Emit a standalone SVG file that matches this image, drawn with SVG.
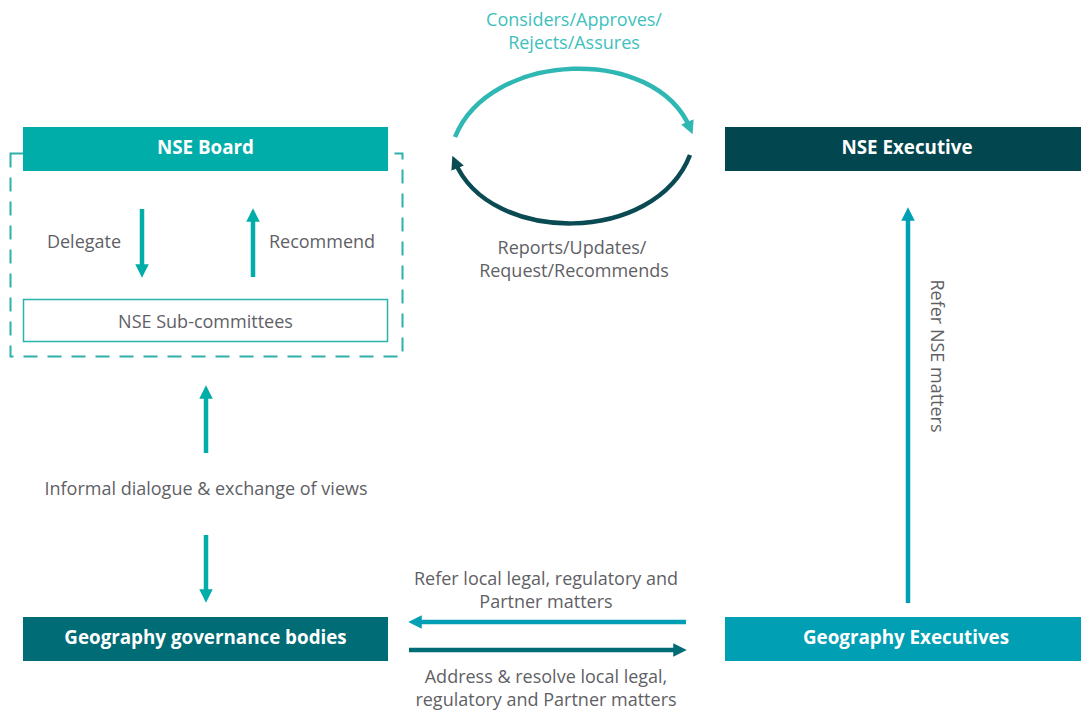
<svg xmlns="http://www.w3.org/2000/svg" width="1081" height="713" viewBox="0 0 1081 713">
  <style>
    .lbl { font-family: "Open Sans", "Liberation Sans", sans-serif; font-size: 18px; fill: #5f5f66; text-anchor: middle; }
    .head { font-family: "Open Sans", "Liberation Sans", sans-serif; font-size: 18.8px; font-weight: bold; fill: #ffffff; text-anchor: middle; }
    .teal { stroke: #00ada9; }
    .cyan { stroke: #009fb3; }
    .deep { stroke: #006c75; }
    .dark { stroke: #0a4a52; }
    .conn { fill: none; stroke-width: 4.5; }
  </style>
  <defs>
    <marker id="ahTeal" viewBox="0 0 10 10" refX="5" refY="5" markerWidth="3" markerHeight="3" orient="auto" markerUnits="strokeWidth">
      <path d="M0,0 L10,5 L0,10 z" fill="#00ada9"/>
    </marker>
    <marker id="ahCyan" viewBox="0 0 10 10" refX="5" refY="5" markerWidth="3" markerHeight="3" orient="auto" markerUnits="strokeWidth">
      <path d="M0,0 L10,5 L0,10 z" fill="#009fb3"/>
    </marker>
    <marker id="ahDeep" viewBox="0 0 10 10" refX="5" refY="5" markerWidth="3" markerHeight="3" orient="auto" markerUnits="strokeWidth">
      <path d="M0,0 L10,5 L0,10 z" fill="#006c75"/>
    </marker>
    <marker id="ahLight" viewBox="0 0 10 10" refX="5" refY="5" markerWidth="3" markerHeight="3" orient="auto" markerUnits="strokeWidth">
      <path d="M0,0 L10,5 L0,10 z" fill="#2fb8b3"/>
    </marker>
    <marker id="ahDark" viewBox="0 0 10 10" refX="5" refY="5" markerWidth="3" markerHeight="3" orient="auto" markerUnits="strokeWidth">
      <path d="M0,0 L10,5 L0,10 z" fill="#0a4a52"/>
    </marker>
  </defs>

  <rect width="1081" height="713" fill="#ffffff"/>

  <!-- board group boundary -->
  <rect id="board-group" x="10.5" y="153.5" width="392" height="203" fill="none" stroke="#2fb0ab" stroke-width="2" stroke-dasharray="14 10"/>

  <g id="nse-board">
    <rect x="23" y="127" width="365" height="44" fill="#00ada9"/>
    <text class="head" x="205.5" y="154">NSE Board</text>
  </g>

  <g id="nse-subcommittees">
    <rect x="23.5" y="299.5" width="364" height="42" fill="#ffffff" stroke="#2ab3ae" stroke-width="1.5"/>
    <text class="lbl" x="205.5" y="328">NSE Sub-committees</text>
  </g>

  <g id="nse-executive">
    <rect x="725" y="127" width="356" height="44" fill="#02464f"/>
    <text class="head" x="907" y="154">NSE Executive</text>
  </g>

  <g id="geography-governance">
    <rect x="23" y="617" width="365" height="44" fill="#006c75"/>
    <text class="head" x="205.5" y="644">Geography governance bodies</text>
  </g>

  <g id="geography-executives">
    <rect x="725" y="617" width="356" height="44" fill="#009fb3"/>
    <text class="head" x="906" y="644">Geography Executives</text>
  </g>

  <g id="connectors">
    <!-- board <-> sub-committees -->
    <path class="conn teal" d="M142,209 V271" marker-end="url(#ahTeal)"/>
    <path class="conn teal" d="M253,277 V215" marker-end="url(#ahTeal)"/>
    <!-- informal dialogue -->
    <path class="conn teal" d="M206,453 V392" marker-end="url(#ahTeal)"/>
    <path class="conn teal" d="M206,535 V596" marker-end="url(#ahTeal)"/>
    <!-- board <-> executive -->
    <path class="conn" stroke="#2fb8b3" d="M455,137 C490,50 655,45 690,128" marker-end="url(#ahLight)"/>
    <path class="conn dark" d="M690,155 C655,245 490,245 455,162" marker-end="url(#ahDark)"/>
    <!-- geography executives -> NSE executive -->
    <path class="conn cyan" d="M908,603 V214" marker-end="url(#ahCyan)"/>
    <!-- geography executives <-> governance bodies -->
    <path class="conn cyan" d="M686,622 H415" marker-end="url(#ahCyan)"/>
    <path class="conn deep" d="M409,650 H680" marker-end="url(#ahDeep)"/>
  </g>

  <g id="labels">
    <text class="lbl" x="84" y="248">Delegate</text>
    <text class="lbl" x="322" y="248">Recommend</text>
    <text class="lbl" x="206" y="495">Informal dialogue &amp; exchange of views</text>
    <text class="lbl" x="574" y="26" style="fill:#3fbfbd">Considers/Approves/</text>
    <text class="lbl" x="574" y="49" style="fill:#3fbfbd">Rejects/Assures</text>
    <text class="lbl" x="572" y="254">Reports/Updates/</text>
    <text class="lbl" x="574" y="277">Request/Recommends</text>
    <text class="lbl" x="546" y="585">Refer local legal, regulatory and</text>
    <text class="lbl" x="546" y="608">Partner matters</text>
    <text class="lbl" x="546" y="683">Address &amp; resolve local legal,</text>
    <text class="lbl" x="546" y="706">regulatory and Partner matters</text>
    <text class="lbl" transform="translate(931,356) rotate(90)">Refer NSE matters</text>
  </g>
</svg>
